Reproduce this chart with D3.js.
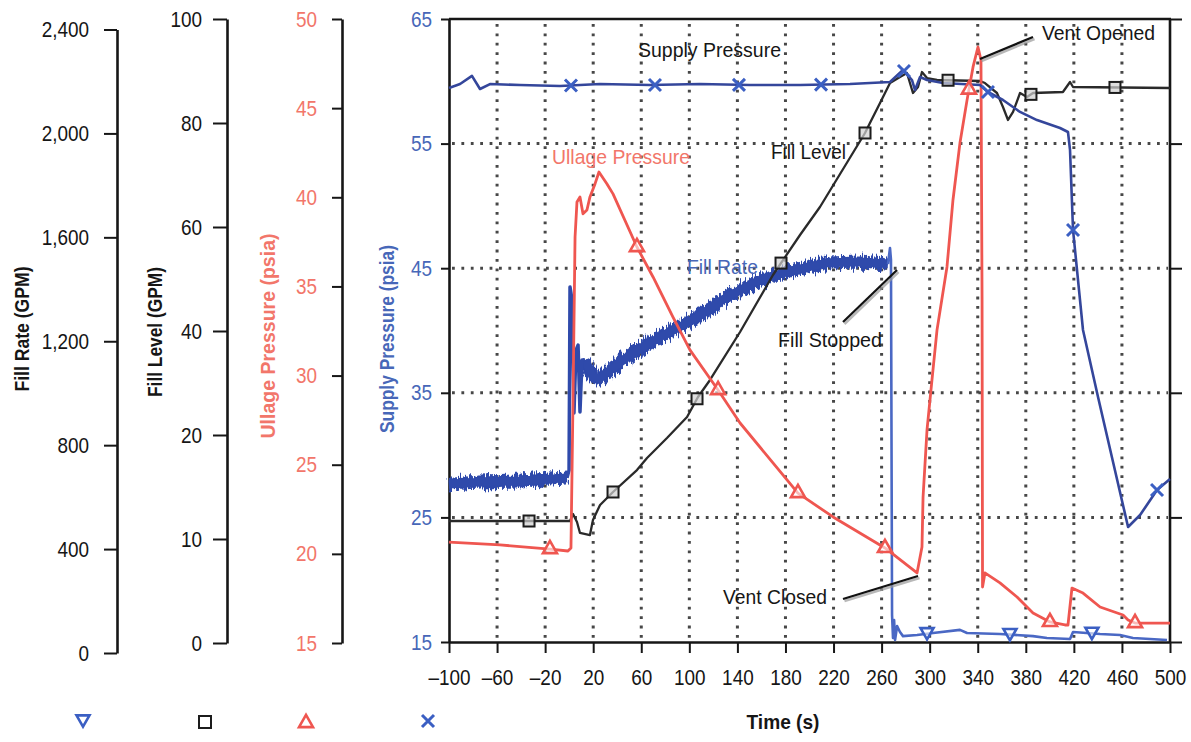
<!DOCTYPE html>
<html>
<head>
<meta charset="utf-8">
<script src="https://cdn.jsdelivr.net/npm/d3@7"></script>
<style>
  body { margin: 0; background: #fff; }
  svg { display: block; }
</style>
</head>
<body>
<svg id="chart" width="1191" height="742"></svg>
<script>
// ---------------- data ----------------
const timeTicks    = [-100, -60, -20, 20, 60, 100, 140, 180, 220, 260, 300, 340, 380, 420, 460, 500];
const supplyTicks  = [15, 25, 35, 45, 55, 65];
const ullageTicks  = [15, 20, 25, 30, 35, 40, 45, 50];
const levelTicks   = [0, 10, 20, 40, 60, 80, 100];
const rateTicks    = [0, 400, 800, 1200, 1600, 2000, 2400];

// Supply pressure (psia)
const supplyTime = [-100, -90.8, -80.9, -74.2, -65.9, -40.9, -7.6, 25.7, 67.3, 108.9, 150.5, 192.1, 233.7, 267.0,
  277.8, 285.3, 287.8, 292.0, 297.8, 311.1, 341.9, 348.5, 361.0, 375.2, 389.3, 408.5, 415.1, 416.8, 419.3,
  425.1, 427.6, 440.1, 452.6, 465.1, 475.1, 489.2, 500];
const supplyPsia = [59.46, 59.78, 60.43, 59.38, 59.78, 59.70, 59.62, 59.78, 59.70, 59.78, 59.70, 59.70, 59.78, 59.94,
  60.91, 60.10, 59.30, 60.34, 60.10, 59.86, 59.70, 59.14, 58.50, 57.54, 56.89, 56.25, 55.93, 54.49, 48.07,
  42.45, 40.04, 34.66, 29.45, 24.23, 25.19, 27.20, 28.08];

// Fill level
const levelTime = [-100, 0.7, 3.2, 6.5, 9.0, 17.3, 19.8, 25.7, 36.5, 56.4, 64.8, 81.4, 98.1, 107.2, 117.2, 142.2,
  169.6, 192.1, 208.7, 246.2, 250.3, 258.7, 267.0, 275.3, 281.1, 286.1, 290.3, 293.6, 297.8, 306.1, 341.9,
  346.0, 356.0, 361.0, 365.2, 369.4, 375.2, 381.0, 386.0, 410.9, 416.8, 419.3, 500];
const levelValue = [11.73, 11.73, 12.40, 11.63, 10.58, 10.38, 11.83, 13.27, 14.52, 16.63, 17.79, 19.71, 23.46, 27.31,
  30.58, 39.81, 50.77, 58.46, 63.85, 78.08, 80.00, 83.85, 87.69, 88.85, 89.62, 85.77, 86.92, 89.81, 88.65,
  88.27, 88.08, 87.69, 85.77, 83.08, 80.58, 82.12, 85.77, 85.00, 85.77, 85.96, 87.88, 86.92, 86.73];

// Ullage pressure (psia)
const ullageTime = [-100, -57.6, -16.0, -1.0, 1.5, 3.2, 4.9, 6.5, 9.0, 11.5, 14.8, 17.3, 21.5, 24.8, 31.5, 36.5,
  56.4, 69.8, 86.4, 100.6, 123.9, 142.2, 169.6, 190.4, 219.6, 262.8, 289.5, 293.6, 294.5, 297.8, 301.9, 306.1,
  314.4, 319.4, 325.2, 331.1, 336.1, 340.2, 342.7, 343.6, 344.0, 346.0, 358.5, 372.7, 386.0, 400.1, 412.6,
  415.1, 418.4, 427.6, 441.8, 460.9, 465.1, 470.9, 500];
const ullagePsia = [20.66, 20.50, 20.27, 20.16, 20.33, 28.63, 37.77, 39.74, 40.02, 39.07, 39.29, 40.02, 40.75, 41.42,
  40.75, 40.19, 37.21, 35.53, 33.28, 31.43, 29.19, 27.34, 25.10, 23.41, 22.07, 20.33, 18.93, 20.38, 23.19, 26.95,
  29.75, 32.55, 36.09, 39.85, 43.04, 45.45, 47.31, 48.43, 47.70, 34.24, 18.14, 18.93, 18.37, 17.58, 16.68,
  16.18, 16.01, 16.01, 18.08, 17.80, 17.02, 16.57, 16.29, 16.12, 16.12];

// Fill rate (GPM)
const rateTime = [-100, -74.2, -40.9, -16.0, -1.8, -0.1, 0.7, 2.4, 4.0, 5.7, 7.4, 9.0, 10.7, 13.2, 19.8, 25.7,
  48.1, 75.6, 103.1, 131.3, 158.8, 186.3, 214.6, 242.0, 265.3, 267.0, 267.8, 268.7, 269.5, 270.4, 271.2, 272.9,
  275.3, 277.8, 289.5, 302.8, 325.2, 331.1, 358.5, 386.0, 397.6, 416.8, 419.3, 441.8, 458.4, 469.2, 497.5];
const rateGpm = [650, 658, 662, 670, 674, 704, 1409, 1359, 924, 1166, 1185, 928, 1128, 1128, 1062, 1058,
  1139, 1216, 1282, 1370, 1436, 1474, 1501, 1505, 1497, 1559, 1513, 146, 58, 127, 50, 104,
  81, 65, 69, 77, 89, 77, 73, 65, 58, 54, 81, 73, 69, 58, 50];

// Marker times along each trace
const supplyMarkTimes = [1.5, 71.4, 141.3, 209.6, 278.6, 348.5, 419.3, 489.2];
const levelMarkTimes  = [-33.4, 36.5, 106.4, 176.3, 246.2, 315.3, 384.3, 454.2];
const ullageMarkTimes = [-16.0, 56.4, 123.9, 190.4, 262.8, 332.7, 400.1, 470.9];
const rateMarkTimes   = [297.8, 366.8, 435.0];

// ---------------- drawing ----------------
const FONT = '"Liberation Sans", Arial, Helvetica, sans-serif';
const RED = "#ef5650", RED_TXT = "#f2766a";
const NAVY = "#34469b", BAND = "#2f4aab", MARK_BLUE = "#3b5fc3", BLUE_TXT = "#4767b8";
const INK = "#161616";

const svg = d3.select("#chart");

// sensor-noise texture for the fill-rate trace
const defs = svg.append("defs");
const jit = defs.append("filter").attr("id", "noisy")
  .attr("x", "-2%").attr("y", "-30%").attr("width", "104%").attr("height", "160%");
jit.append("feTurbulence").attr("type", "fractalNoise").attr("baseFrequency", "0.6 0.05")
  .attr("numOctaves", 2).attr("seed", 7).attr("result", "n");
jit.append("feDisplacementMap").attr("in", "SourceGraphic").attr("in2", "n").attr("scale", 14)
  .attr("xChannelSelector", "B").attr("yChannelSelector", "R");

const x       = d3.scaleLinear().domain([-100, 500]).range([449, 1170]);
const ySupply = d3.scaleLinear().domain([15, 65]).range([642, 19]);
const yUllage = d3.scaleLinear().domain([15, 50]).range([643, 19]);
const yLevel  = d3.scaleLinear().domain([0, 20, 100]).range([643, 435, 19]);
const yRate   = d3.scaleLinear().domain([0, 2400]).range([653, 29.5]);

const pairs = (ts, vs) => ts.map((t, i) => [t, vs[i]]);
function valueAt(ts, vs, t) {
  const i = Math.max(1, Math.min(ts.length - 1, d3.bisectLeft(ts, t)));
  const f = (t - ts[i - 1]) / (ts[i] - ts[i - 1]);
  return vs[i - 1] + f * (vs[i] - vs[i - 1]);
}
function squeeze(sel, k) {
  sel.each(function () {
    const w = this.getComputedTextLength();
    this.setAttribute("textLength", w * k);
    this.setAttribute("lengthAdjust", "spacingAndGlyphs");
  });
}

// dotted grid
const grid = svg.append("g").attr("stroke", "#474747").attr("stroke-width", 3)
  .attr("stroke-dasharray", "2.8,6.6");
grid.selectAll("line.v").data(timeTicks.slice(1, -1)).join("line")
  .attr("x1", d => x(d)).attr("x2", d => x(d)).attr("y1", 24).attr("y2", 642);
grid.selectAll("line.h").data(supplyTicks.slice(1, -1)).join("line")
  .attr("x1", 452).attr("x2", 1168).attr("y1", d => ySupply(d)).attr("y2", d => ySupply(d));

// frame top/right
svg.append("line").attr("x1", 449).attr("x2", 1171).attr("y1", 19).attr("y2", 19)
  .attr("stroke", INK).attr("stroke-width", 2.6);
svg.append("line").attr("x1", 1170).attr("x2", 1170).attr("y1", 19).attr("y2", 643)
  .attr("stroke", INK).attr("stroke-width", 2.6);

// axes
function styleAxis(g, color) {
  g.attr("font-family", FONT).attr("font-size", 22);
  g.select(".domain").attr("stroke", INK).attr("stroke-width", 2.6);
  g.selectAll(".tick line").attr("stroke", INK).attr("stroke-width", 2);
  g.selectAll(".tick text").attr("fill", color);
  squeeze(g.selectAll(".tick text"), 0.86);
}
const dash = d => (d < 0 ? "\u2013" + Math.abs(d) : String(d));

styleAxis(svg.append("g").attr("transform", "translate(117,0)")
  .call(d3.axisLeft(yRate).tickValues(rateTicks).tickSize(13).tickSizeOuter(0).tickPadding(15)
    .tickFormat(d3.format(","))), INK);
styleAxis(svg.append("g").attr("transform", "translate(227,0)")
  .call(d3.axisLeft(yLevel).tickValues(levelTicks).tickSize(14).tickSizeOuter(0).tickPadding(11)), INK);
styleAxis(svg.append("g").attr("transform", "translate(342,0)")
  .call(d3.axisLeft(yUllage).tickValues(ullageTicks).tickSize(10).tickSizeOuter(0).tickPadding(15)), RED_TXT);
styleAxis(svg.append("g").attr("transform", "translate(449,0)")
  .call(d3.axisLeft(ySupply).tickValues(supplyTicks).tickSize(8).tickSizeOuter(0).tickPadding(9)), BLUE_TXT);
styleAxis(svg.append("g").attr("transform", "translate(0,642)")
  .call(d3.axisBottom(x).tickValues(timeTicks).tickSize(11).tickSizeOuter(0).tickPadding(16)
    .tickFormat(dash)), INK);
const right = svg.append("g").attr("transform", "translate(1170,0)")
  .call(d3.axisRight(ySupply).tickValues(supplyTicks).tickSize(12).tickSizeOuter(0).tickFormat(""));
right.select(".domain").remove();
right.selectAll(".tick line").attr("stroke", INK).attr("stroke-width", 2);

// axis titles
function vTitle(txt, cx, cy, len, color) {
  svg.append("text").attr("transform", `translate(${cx},${cy}) rotate(-90)`)
    .attr("text-anchor", "middle").attr("dy", "0.35em")
    .attr("font-family", FONT).attr("font-size", 19.5).attr("font-weight", "bold").attr("fill", color)
    .attr("textLength", len).attr("lengthAdjust", "spacingAndGlyphs").text(txt);
}
vTitle("Fill Rate (GPM)", 22, 329, 125, INK);
vTitle("Fill Level (GPM)", 155, 332, 130, INK);
vTitle("Ullage Pressure (psia)", 268, 336, 205, RED_TXT);
vTitle("Supply Pressure (psia)", 387, 339, 188, BLUE_TXT);
svg.append("text").attr("x", 783).attr("y", 722).attr("dy", "0.35em").attr("text-anchor", "middle")
  .attr("font-family", FONT).attr("font-size", 21).attr("font-weight", "bold").attr("fill", INK)
  .attr("textLength", 73).attr("lengthAdjust", "spacingAndGlyphs").text("Time (s)");

// traces
const plot = svg.append("g");
const lineOf = yScale => d3.line().x(d => x(d[0])).y(d => yScale(d[1]));

const rate = pairs(rateTime, rateGpm);
const ratePre   = rate.filter(d => d[0] <= -1.8);
const rateSpike = rate.filter(d => d[0] >= -1.8 && d[0] <= 13.2);
const rateFill  = rate.filter(d => d[0] >= 13.2 && d[0] <= 265.3);
const rateStop  = rate.filter(d => d[0] >= 265.3);
const rateLine = lineOf(yRate);
const band = plot.append("g").attr("filter", "url(#noisy)");
[ratePre, rateFill].forEach(seg => {
  band.append("path").attr("d", rateLine(seg)).attr("fill", "none").attr("stroke", BAND)
    .attr("stroke-width", 13).attr("stroke-linejoin", "round").attr("stroke-linecap", "butt");
  plot.append("path").attr("d", rateLine(seg)).attr("fill", "none").attr("stroke", BAND)
    .attr("stroke-width", 8.5).attr("stroke-linejoin", "round").attr("stroke-linecap", "butt");
});
plot.append("path").attr("d", rateLine(rateSpike)).attr("fill", "none").attr("stroke", BAND)
  .attr("stroke-width", 3.5).attr("stroke-linejoin", "round");
plot.append("path").attr("d", rateLine(rateStop)).attr("fill", "none").attr("stroke", "#4a68c4")
  .attr("stroke-width", 2.6).attr("stroke-linejoin", "round");

plot.append("path").attr("d", lineOf(yLevel)(pairs(levelTime, levelValue)))
  .attr("fill", "none").attr("stroke", "#2a2a2a").attr("stroke-width", 2.3).attr("stroke-linejoin", "round");
plot.append("path").attr("d", lineOf(yUllage)(pairs(ullageTime, ullagePsia)))
  .attr("fill", "none").attr("stroke", RED).attr("stroke-width", 2.8).attr("stroke-linejoin", "round");
plot.append("path").attr("d", lineOf(ySupply)(pairs(supplyTime, supplyPsia)))
  .attr("fill", "none").attr("stroke", NAVY).attr("stroke-width", 2.6).attr("stroke-linejoin", "round");

// marker shapes
function triangle(g, cx, cy, s, up, color) {
  const h = s * 0.87, d = up ? -1 : 1;
  g.append("path")
    .attr("d", `M${cx - s / 2},${cy - d * h / 2}L${cx + s / 2},${cy - d * h / 2}L${cx},${cy + d * h / 2}Z`)
    .attr("fill", "#fff").attr("fill-opacity", 0.6).attr("stroke", color).attr("stroke-width", 2.6)
    .attr("stroke-linejoin", "miter");
}
function square(g, cx, cy, s, fill) {
  g.append("rect").attr("x", cx - s / 2).attr("y", cy - s / 2).attr("width", s).attr("height", s)
    .attr("fill", fill).attr("fill-opacity", 0.7).attr("stroke", "#1c1c1c").attr("stroke-width", 2);
}
function cross(g, cx, cy, s, color) {
  const h = s / 2;
  g.append("path").attr("d", `M${cx - h},${cy - h}L${cx + h},${cy + h}M${cx - h},${cy + h}L${cx + h},${cy - h}`)
    .attr("stroke", color).attr("stroke-width", 3).attr("fill", "none");
}

const marks = svg.append("g");
rateMarkTimes.forEach(t => triangle(marks, x(t), yRate(valueAt(rateTime, rateGpm, t)), 13, false, MARK_BLUE));
levelMarkTimes.forEach(t => square(marks, x(t), yLevel(valueAt(levelTime, levelValue, t)), 11, "#d0d0d0"));
ullageMarkTimes.forEach(t => triangle(marks, x(t), yUllage(valueAt(ullageTime, ullagePsia, t)) - 2, 14, true, RED));
supplyMarkTimes.forEach(t => cross(marks, x(t), ySupply(valueAt(supplyTime, supplyPsia, t)), 12, MARK_BLUE));

// legend symbols
triangle(marks, 83, 721, 13, false, MARK_BLUE);
square(marks, 205, 722, 12, "#fff");
triangle(marks, 306, 721, 14, true, RED);
cross(marks, 428, 721, 12, MARK_BLUE);

// annotations
function note(txt, x0, x1, yc, color) {
  svg.append("text").attr("x", x0).attr("y", yc).attr("dy", "0.35em")
    .attr("font-family", FONT).attr("font-size", 21).attr("fill", color)
    .attr("textLength", x1 - x0).attr("lengthAdjust", "spacingAndGlyphs").text(txt);
}
function leader(x1, y1, x2, y2) {
  svg.append("line").attr("x1", x1 + 1.5).attr("y1", y1 + 2).attr("x2", x2 + 1.5).attr("y2", y2 + 2)
    .attr("stroke", "#9a9a9a").attr("stroke-width", 2.5).attr("stroke-opacity", 0.7);
  svg.append("line").attr("x1", x1).attr("y1", y1).attr("x2", x2).attr("y2", y2)
    .attr("stroke", "#111").attr("stroke-width", 2.2);
}
note("Supply Pressure", 638, 781, 50, INK);
note("Ullage Pressure", 552, 690, 157, RED_TXT);
note("Fill Rate", 687, 758, 267, BLUE_TXT);
note("Fill Level", 771, 846, 152, INK);
note("Fill Stopped", 778, 882, 340, INK);
note("Vent Closed", 723, 827, 597, INK);
note("Vent Opened", 1042, 1155, 33, INK);
leader(843, 322, 897, 270);
leader(843, 599, 918, 576);
leader(980, 59, 1033, 37);
</script>
</body>
</html>
